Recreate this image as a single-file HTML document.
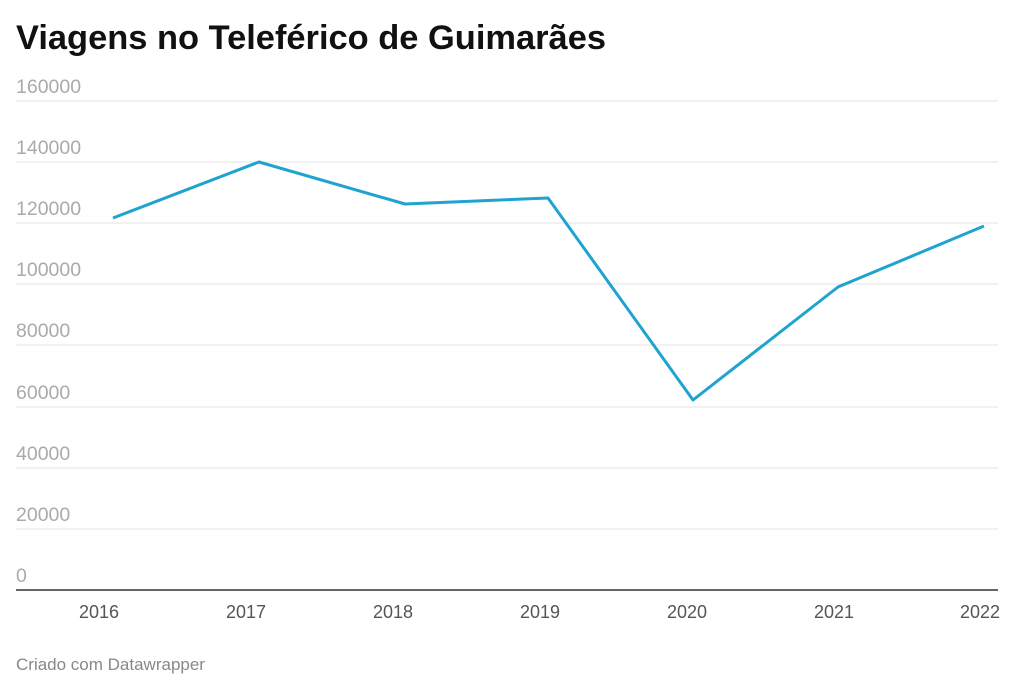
<!DOCTYPE html>
<html><head><meta charset="utf-8"><style>
body{margin:0;background:#fff;width:1024px;height:694px;overflow:hidden;font-family:"Liberation Sans",sans-serif}
</style></head><body>
<svg width="1024" height="694" xmlns="http://www.w3.org/2000/svg" font-family="Liberation Sans, sans-serif">
<text x="16" y="49" font-size="34" font-weight="bold" fill="#111" textLength="590" lengthAdjust="spacingAndGlyphs">Viagens no Teleférico de Guimarães</text>
<g stroke="#e3e3e3" stroke-width="1">
<line x1="16" x2="998" y1="101" y2="101"/><line x1="16" x2="998" y1="162" y2="162"/>
<line x1="16" x2="998" y1="223" y2="223"/><line x1="16" x2="998" y1="284" y2="284"/>
<line x1="16" x2="998" y1="345" y2="345"/><line x1="16" x2="998" y1="407" y2="407"/>
<line x1="16" x2="998" y1="468" y2="468"/><line x1="16" x2="998" y1="529" y2="529"/>
</g>
<line x1="16" x2="998" y1="590" y2="590" stroke="#333" stroke-width="1.5"/>
<g font-size="19.5" fill="#aaa">
<text x="16" y="93">160000</text><text x="16" y="154">140000</text>
<text x="16" y="215">120000</text><text x="16" y="276">100000</text>
<text x="16" y="337">80000</text><text x="16" y="399">60000</text>
<text x="16" y="460">40000</text><text x="16" y="521">20000</text>
<text x="16" y="582">0</text>
</g>
<g font-size="18" fill="#555" text-anchor="middle">
<text x="99" y="618">2016</text><text x="246" y="618">2017</text><text x="393" y="618">2018</text>
<text x="540" y="618">2019</text><text x="687" y="618">2020</text><text x="834" y="618">2021</text>
<text x="980" y="618">2022</text>
</g>
<polyline fill="none" stroke="#1fa3d1" stroke-width="3" stroke-linejoin="round" points="113,218 259,162 405,204 548,198 693,400 838,287 984,226"/>
<text x="16" y="670" font-size="17" fill="#888">Criado com Datawrapper</text>
</svg>
</body></html>
